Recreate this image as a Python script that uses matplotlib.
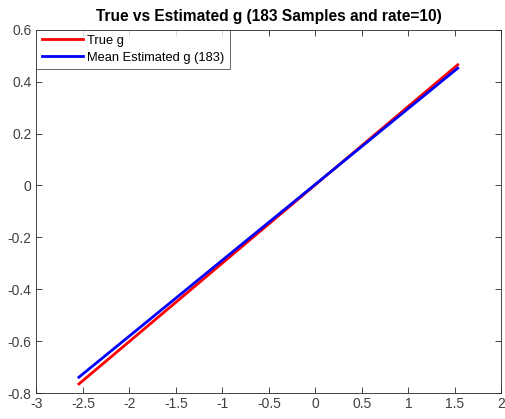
import numpy as np
import matplotlib
matplotlib.use('Agg')
from matplotlib import pyplot as plt

plt.rcParams['font.family'] = ['Liberation Sans', 'DejaVu Sans']

# line end points
x_ends = [-2.543, 1.530]
true_g = [-0.765, 0.465]
est_g = [-0.739, 0.452]

xticks = [-3, -2.5, -2, -1.5, -1, -0.5, 0, 0.5, 1, 1.5, 2]
yticks = [-0.8, -0.6, -0.4, -0.2, 0, 0.2, 0.4, 0.6]

fig = plt.figure(figsize=(5.06, 4.19), dpi=100)
ax = fig.add_axes([0.072, 0.062, 0.919, 0.867])

ax.plot(x_ends, true_g, color='#ff0000', lw=2, label='True g')
ax.plot(x_ends, est_g, color='#0000ff', lw=2, label='Mean Estimated g (183)')

ax.set_xlim(-3, 2)
ax.set_ylim(-0.8, 0.6)
ax.set_xticks(xticks)
ax.set_yticks(yticks)
ax.set_xticklabels([f'{t:g}' for t in xticks])
ax.set_yticklabels([f'{t:g}' for t in yticks])
ax.tick_params(direction='in', top=True, right=True, labelsize=10, colors='#262626',
               labelcolor='#404040', length=4, width=0.6)
ax.tick_params(axis='x', pad=3)
for s in ax.spines.values():
    s.set_color('#262626')
    s.set_linewidth(0.6)

ax.set_title('True vs Estimated g (183 Samples and rate=10)', fontsize=11.2, fontweight='bold', pad=6)

leg = ax.legend(loc='upper left', fontsize=9.3, handlelength=3.2, frameon=True, fancybox=False,
                borderaxespad=0.0, borderpad=0.4, labelspacing=0.35, handletextpad=0.35)
leg.get_frame().set_edgecolor('#262626')
leg.get_frame().set_linewidth(0.6)

plt.savefig('out.png', dpi=100)
